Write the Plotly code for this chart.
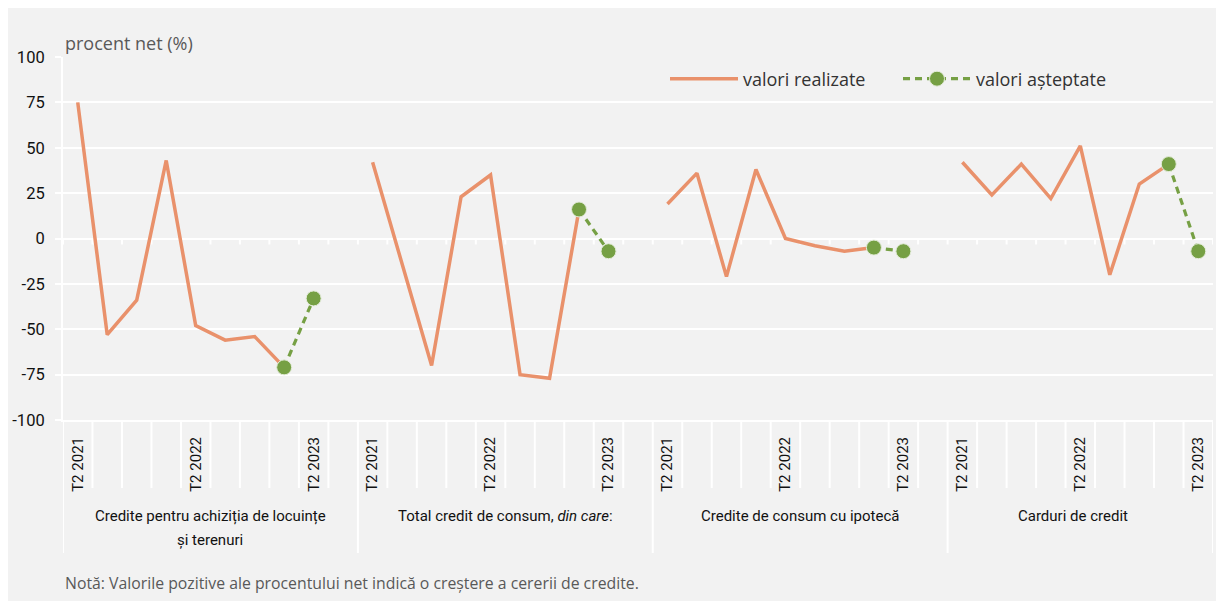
import plotly.graph_objects as go

# ---------------- data ----------------
quarters = ["T2 2021", "T3 2021", "T4 2021", "T1 2022", "T2 2022",
            "T3 2022", "T4 2022", "T1 2023", "T2 2023"]
tick_quarters = ["T2 2021", "T2 2022", "T2 2023"]
groups = ["Credite pentru achiziția de locuințe<br>și terenuri",
          "Total credit de consum, <i>din care</i>:",
          "Credite de consum cu ipotecă",
          "Carduri de credit"]

# realized values: T2 2021 ... T1 2023
realized_locuinte = [75, -53, -34, 43, -48, -56, -54, -71]
realized_total = [42, -14, -70, 23, 35, -75, -77, 16]
realized_ipoteca = [19, 36, -21, 38, 0, -4, -7, -5]
realized_carduri = [42, 24, 41, 22, 51, -20, 30, 41]
# expected values: T1 2023, T2 2023
expected_locuinte = [-71, -33]
expected_total = [16, -7]
expected_ipoteca = [-5, -7]
expected_carduri = [41, -7]

realized = [realized_locuinte, realized_total, realized_ipoteca, realized_carduri]
expected = [expected_locuinte, expected_total, expected_ipoteca, expected_carduri]
expected_quarters = ["T1 2023", "T2 2023"]

y_ticks = [-100, -75, -50, -25, 0, 25, 50, 75, 100]

# ---------------- styling ----------------
ORANGE = "#E9916B"
GREEN = "#76A044"
BG = "#F2F2F2"
NARROW = "Roboto, sans-serif"
SANS = "Open Sans, Noto Sans, sans-serif"

slot = len(quarters) + 1           # one spacer slot after each group
n_cat = slot * len(groups) - 1     # no spacer after the last group

W, H = 1216, 593
ML, MR, MT, MB = 55, 11, 49, 181
PW, PH = W - ML - MR, H - MT - MB


def py(pix_below_plot_bottom):
    return -pix_below_plot_bottom / PH


fig = go.Figure()

rx, ry, ex, ey = [], [], [], []
for g, (rv, ev) in enumerate(zip(realized, expected)):
    base = g * slot
    rx += [base + quarters.index(q) for q in quarters[:len(rv)]] + [None]
    ry += list(rv) + [None]
    ex += [base + quarters.index(q) for q in expected_quarters] + [None]
    ey += list(ev) + [None]

fig.add_trace(go.Scatter(
    x=rx, y=ry, mode="lines", name="valori realizate",
    line=dict(color=ORANGE, width=3.5), connectgaps=False,
    hoverinfo="skip"))
fig.add_trace(go.Scatter(
    x=ex, y=ey, mode="lines+markers", name="valori așteptate",
    line=dict(color=GREEN, width=3.2, dash="7px,5px"),
    marker=dict(color=GREEN, size=15, line=dict(color="#E4ECDA", width=1)),
    connectgaps=False, hoverinfo="skip"))

# category axis labels
tickvals, ticktext = [], []
for g in range(len(groups)):
    for q in tick_quarters:
        tickvals.append(g * slot + quarters.index(q))
        ticktext.append(q)

shapes = []
for b in range(n_cat + 1):
    xb = b - 0.5
    long_line = (b % slot == 0) or b == n_cat
    shapes.append(dict(type="line", xref="x", yref="paper", x0=xb, x1=xb,
                       y0=0, y1=py(133 if long_line else 68),
                       line=dict(color="white", width=2), layer="above"))
    shapes.append(dict(type="line", xref="x", yref="y", ysizemode="pixel",
                       yanchor=0, x0=xb, x1=xb, y0=0, y1=-6,
                       line=dict(color="white", width=2), layer="below"))

annotations = []
for g, name in enumerate(groups):
    n_in = len(quarters) if g == len(groups) - 1 else slot
    center = g * slot + (n_in - 1) / 2 - (0.25 if g == len(groups) - 1 else 0)
    for k, line_text in enumerate(name.split("<br>")):
        annotations.append(dict(x=center, xref="x", y=py(96 + 24 * k), yref="paper",
                                text=line_text, showarrow=False, xanchor="center",
                                yanchor="middle", align="center",
                                font=dict(family=NARROW, size=15, color="#111111")))

annotations.append(dict(x=0, xref="paper", y=1 + 14 / PH, yref="paper",
                        text="procent net (%)", showarrow=False,
                        xanchor="left", yanchor="middle",
                        font=dict(family=SANS, size=18, color="#595959")))
annotations.append(dict(x=0, xref="paper", y=py(163), yref="paper",
                        text="Notă: Valorile pozitive ale procentului net indică o creștere a cererii de credite.",
                        showarrow=False, xanchor="left", yanchor="middle",
                        font=dict(family=SANS, size=15.8, color="#595959")))

fig.update_layout(
    width=W, height=H,
    margin=dict(l=ML, r=MR, t=MT, b=MB, pad=0),
    paper_bgcolor=BG, plot_bgcolor=BG,
    showlegend=True,
    legend=dict(orientation="h", x=(665 - 63) / PW, xanchor="left",
                y=1 - (79 - 57) / PH, yanchor="middle",
                bgcolor="rgba(0,0,0,0)", font=dict(family=SANS, size=18, color="#333333"),
                itemwidth=68, entrywidth=150, entrywidthmode="pixels",
                traceorder="normal"),
    xaxis=dict(range=[-0.5, n_cat - 0.5], tickmode="array", tickvals=tickvals,
               ticktext=ticktext, tickangle=-90, showgrid=False, zeroline=False,
               showline=True, linecolor="white", linewidth=2, ticks="",
               ticklabelstandoff=9, automargin=False,
               tickfont=dict(family=NARROW, size=15, color="#111111")),
    yaxis=dict(range=[-100, 100], tickmode="array", tickvals=y_ticks,
               ticktext=[str(v) for v in y_ticks],
               showgrid=True, gridcolor="white", gridwidth=2, zeroline=False,
               showline=True, linecolor="white", linewidth=2,
               ticks="outside", ticklen=6, tickcolor="white", tickwidth=2,
               ticklabelstandoff=7, automargin=False,
               tickfont=dict(family=NARROW, size=16.5, color="#111111")),
    shapes=shapes, annotations=annotations,
)

fig.write_html("out.html")
